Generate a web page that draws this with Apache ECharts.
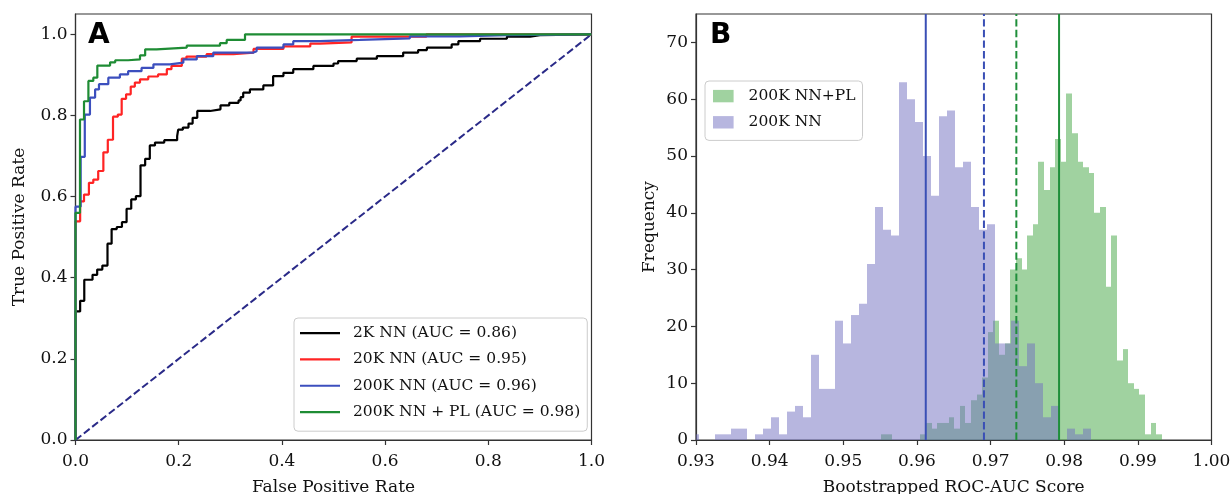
<!DOCTYPE html>
<html>
<head>
<meta charset="utf-8">
<script src="https://cdn.jsdelivr.net/npm/echarts@6.0.0/dist/echarts.min.js"></script>
<style>
  html, body { margin: 0; padding: 0; background: #fff; }
  #chart { width: 1231px; height: 494px; }
</style>
</head>
<body>
<div id="chart"></div>
<script>
// ---- panel A: ROC curves, corner points [fpr, tpr] (step drawn at end) ----
const rocNames = ['2K NN (AUC = 0.86)', '20K NN (AUC = 0.95)', '200K NN (AUC = 0.96)', '200K NN + PL (AUC = 0.98)'];
const roc2K = [[0,0],[0,0.317],[0.009,0.343],[0.017,0.395],[0.033,0.407],[0.042,0.42],[0.052,0.43],[0.062,0.484],
  [0.070,0.52],[0.080,0.525],[0.090,0.537],[0.099,0.57],[0.108,0.593],[0.117,0.601],[0.126,0.677],[0.135,0.693],
  [0.144,0.726],[0.154,0.733],[0.172,0.739],[0.197,0.749],[0.199,0.765],[0.208,0.77],[0.219,0.78],[0.227,0.794],
  [0.236,0.811],[0.261,0.815],[0.281,0.825],[0.298,0.831],[0.316,0.837],[0.320,0.845],[0.325,0.856],[0.338,0.864],
  [0.364,0.874],[0.383,0.897],[0.403,0.905],[0.422,0.914],[0.461,0.922],[0.500,0.928],[0.509,0.934],[0.545,0.94],
  [0.584,0.946],[0.635,0.955],[0.664,0.961],[0.681,0.967],[0.729,0.975],[0.742,0.983],[0.784,0.989],[0.836,0.994],
  [0.881,0.998],[0.900,1.0],[1,1]];
const roc20K = [[0,0],[0,0.539],[0.009,0.588],[0.0165,0.605],[0.026,0.634],[0.0345,0.642],[0.044,0.663],[0.054,0.709],
  [0.0626,0.74],[0.0727,0.797],[0.082,0.802],[0.0895,0.841],[0.098,0.852],[0.107,0.871],[0.115,0.881],[0.125,0.889],
  [0.141,0.896],[0.160,0.901],[0.177,0.914],[0.186,0.922],[0.206,0.94],[0.215,0.945],[0.254,0.951],[0.306,0.955],
  [0.345,0.964],[0.403,0.97],[0.455,0.977],[0.474,0.98],[0.535,0.994],[0.680,1.0],[1,1]];
const roc200K = [[0,0],[0,0.575],[0.010,0.698],[0.018,0.802],[0.028,0.844],[0.038,0.864],[0.0455,0.877],[0.0636,0.893],
  [0.086,0.901],[0.102,0.909],[0.128,0.917],[0.151,0.926],[0.183,0.93],[0.209,0.938],[0.235,0.946],[0.267,0.955],
  [0.345,0.958],[0.351,0.967],[0.403,0.975],[0.422,0.983],[0.474,0.986],[0.551,0.99],[0.648,0.995],[0.745,0.998],
  [0.836,1.0],[1,1]];
const roc200KPL = [[0,0],[0,0.56],[0.0087,0.79],[0.0165,0.835],[0.025,0.885],[0.0345,0.893],[0.0423,0.923],[0.067,0.931],
  [0.077,0.936],[0.102,0.938],[0.125,0.948],[0.135,0.963],[0.157,0.967],[0.2155,0.972],[0.280,0.978],[0.293,0.986],
  [0.3285,1.0],[1,1]];
const chanceLine = [[0,0],[1,1]];
const rocTicks = [0, 0.2, 0.4, 0.6, 0.8, 1.0];

// ---- panel B: bootstrapped AUC histograms (50 bins each) ----
const histNames = ['200K NN+PL', '200K NN'];
const plBinStart = 0.95515;
const plBinWidth = 0.000762;
const plCounts = [1,1,0,0,0,0,0,1,3,2, 3,3,4,2,6,3,7,8,11,19, 21,15,17,30,32,30,36,38,49,44,
  48,53,49,61,54,49,48,47,40,41, 27,36,14,16,10,9,8,1,3,1];
const nnBinStart = 0.92936;
const nnBinWidth = 0.001086;
const nnCounts = [1,0,0,1,1,2,2,0,1,2, 4,1,5,6,4,15,9,9,21,17, 22,24,31,41,37,36,63,60,56,50,
  43,57,58,48,49,41,37,38,17,17, 21,13,17,10,4,6,0,2,1,2];
const aucLines = [0.9612, 0.9691, 0.9735, 0.9793]; // NN solid, NN dashed, PL dashed, PL solid
const aucTicks = [0.93, 0.94, 0.95, 0.96, 0.97, 0.98, 0.99, 1.00];
const freqTicks = [0, 10, 20, 30, 40, 50, 60, 70];

const serif = "'DejaVu Serif', serif";
const ink = '#333';
const dash = [7.4, 3.2];
const plColor = 'rgba(65,165,65,0.5)';
const nnColor = 'rgba(112,110,192,0.5)';

function bins(start, width, counts) {
  return counts.map((c, i) => [start + i * width, start + (i + 1) * width, c]);
}

// one rect per bin, edges snapped to whole pixels so neighbours meet cleanly
function renderBin(params, api) {
  const count = api.value(2);
  if (!(count > 0)) return null;
  const top = api.coord([api.value(0), count]);
  const base = api.coord([api.value(1), 0]);
  const cs = params.coordSys;
  const x0 = Math.max(Math.round(top[0]), cs.x);
  const x1 = Math.min(Math.round(base[0]), cs.x + cs.width);
  if (x1 <= x0) return null;
  return { type: 'rect', shape: { x: x0, y: top[1], width: x1 - x0, height: base[1] - top[1] },
    style: api.style() };
}

function axis(gridIndex, min, max, ticks, fmt, name, nameGap, isY) {
  return {
    type: 'value', gridIndex, min, max,
    name, nameLocation: 'middle', nameGap,
    nameTextStyle: { fontFamily: serif, fontSize: 17, color: '#111' },
    axisLine: { show: true, lineStyle: { color: ink, width: 1.2 } },
    axisTick: { show: true, length: 5, customValues: ticks, lineStyle: { color: ink, width: 1.2 } },
    axisLabel: { customValues: ticks, formatter: fmt, margin: isY ? 8 : 13,
      fontFamily: serif, fontSize: 17, color: '#111' },
    splitLine: { show: false }
  };
}

function roc(name, data, color) {
  return { name, type: 'line', xAxisIndex: 0, yAxisIndex: 0, data, step: 'end',
    showSymbol: false, silent: true, animation: false,
    itemStyle: { color }, lineStyle: { color, width: 2.2 } };
}

function hist(name, data, color) {
  return { name, type: 'custom', xAxisIndex: 1, yAxisIndex: 1, data, renderItem: renderBin,
    encode: { x: [0, 1], y: 2 }, silent: true, animation: false,
    itemStyle: { color } };
}

function vline(value, color, type) {
  return { type: 'line', xAxisIndex: 1, yAxisIndex: 1, data: [[value, 0], [value, 75]],
    showSymbol: false, silent: true, animation: false, z: 5,
    lineStyle: { color, width: 2, type } };
}

const chart = echarts.init(document.getElementById('chart'), null, { renderer: 'canvas' });
chart.setOption({
  backgroundColor: '#fff',
  animation: false,
  grid: [
    { left: 75.5, top: 14, width: 516, height: 426, show: true, borderColor: ink, borderWidth: 1.2,
      containLabel: false, outerBoundsMode: 'none' },
    { left: 696, top: 14, width: 515.5, height: 426, show: true, borderColor: ink, borderWidth: 1.2,
      containLabel: false, outerBoundsMode: 'none' }
  ],
  xAxis: [
    axis(0, 0, 1, rocTicks, v => v.toFixed(1), 'False Positive Rate', 39, false),
    axis(1, 0.93, 1.0, aucTicks, v => v.toFixed(2), 'Bootstrapped ROC-AUC Score', 39, false)
  ],
  yAxis: [
    axis(0, 0, 1.05, rocTicks, v => v.toFixed(1), 'True Positive Rate', 47, true),
    axis(1, 0, 75, freqTicks, v => String(v), 'Frequency', 38, true)
  ],
  legend: [
    {
      data: rocNames, orient: 'vertical', left: 294, top: 318,
      icon: 'rect', itemWidth: 40, itemHeight: 2.2, itemGap: 0,
      padding: [2, 7, 6, 6],
      backgroundColor: 'rgba(255,255,255,0.85)', borderColor: '#ccc', borderWidth: 1, borderRadius: 4,
      textStyle: { fontFamily: serif, fontSize: 15.5, color: '#111', lineHeight: 26.3, padding: [0, 0, 0, 8] }
    },
    {
      data: [
        { name: histNames[0], itemStyle: { color: plColor } },
        { name: histNames[1], itemStyle: { color: nnColor } }
      ],
      orient: 'vertical', left: 705, top: 81,
      icon: 'rect', itemWidth: 20.6, itemHeight: 12.4, itemGap: 0,
      padding: [2, 7, 5, 8],
      backgroundColor: 'rgba(255,255,255,0.85)', borderColor: '#ccc', borderWidth: 1, borderRadius: 4,
      textStyle: { fontFamily: serif, fontSize: 15.5, color: '#111', lineHeight: 26.2, padding: [0, 0, 0, 10] }
    }
  ],
  graphic: [
    { type: 'text', x: 88, y: 35.5, silent: true,
      style: { text: 'A', font: "bold 28px 'DejaVu Sans', sans-serif", fill: '#000', verticalAlign: 'middle' } },
    { type: 'text', x: 710, y: 35.5, silent: true,
      style: { text: 'B', font: "bold 28px 'DejaVu Sans', sans-serif", fill: '#000', verticalAlign: 'middle' } }
  ],
  series: [
    { type: 'line', xAxisIndex: 0, yAxisIndex: 0, data: chanceLine, showSymbol: false, silent: true,
      lineStyle: { color: '#2a2a88', width: 2, type: dash } },
    roc(rocNames[0], roc2K, '#000000'),
    roc(rocNames[1], roc20K, '#ff2424'),
    roc(rocNames[2], roc200K, '#3c4fbe'),
    roc(rocNames[3], roc200KPL, '#1e8c34'),
    hist(histNames[0], bins(plBinStart, plBinWidth, plCounts), plColor),
    hist(histNames[1], bins(nnBinStart, nnBinWidth, nnCounts), nnColor),
    vline(aucLines[0], '#3a4fb5', 'solid'),
    vline(aucLines[1], '#3a4fb5', dash),
    vline(aucLines[2], '#1f8f3a', dash),
    vline(aucLines[3], '#1f8f3a', 'solid')
  ]
});
</script>
</body>
</html>
